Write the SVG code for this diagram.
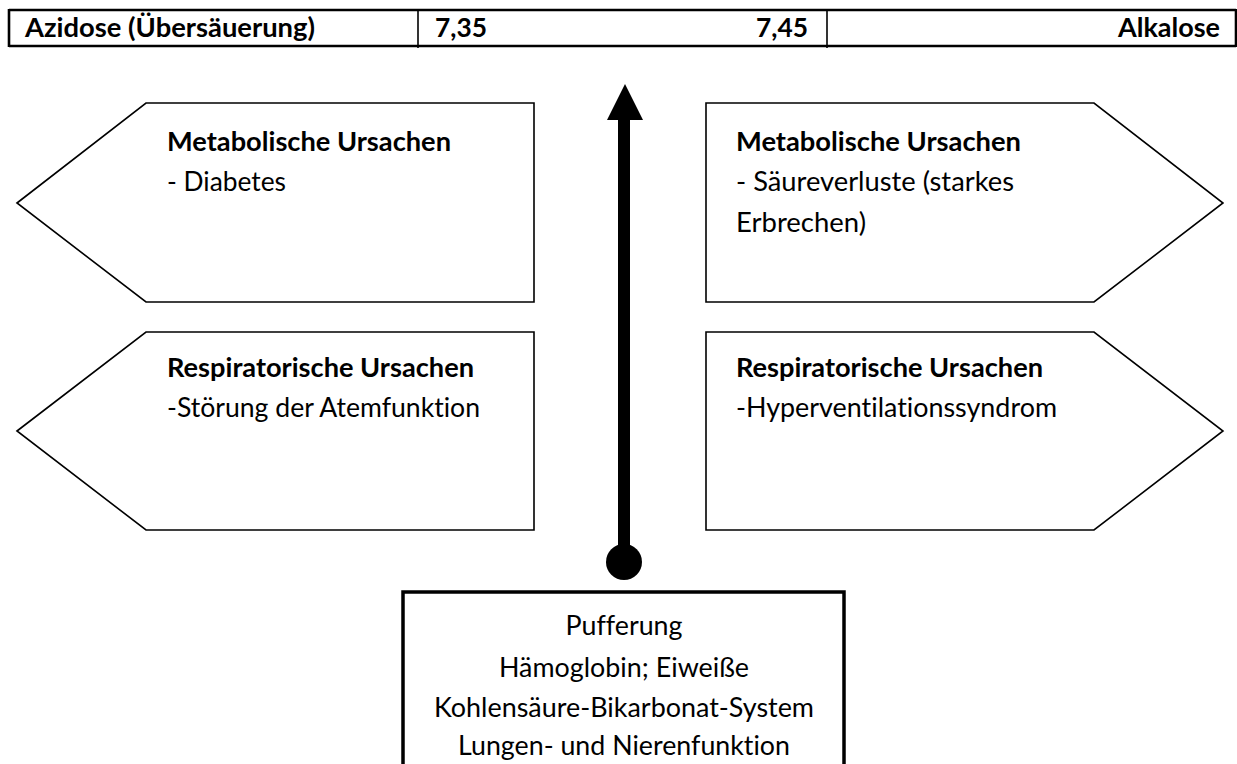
<svg xmlns="http://www.w3.org/2000/svg" width="1237" height="764" viewBox="0 0 1237 764">
<style>
text{font-family:Lato,"Open Sans","Liberation Sans",sans-serif;font-size:27px;fill:#000;font-variant-ligatures:none}
.b{font-weight:bold}
.c{text-anchor:middle}
.shape{fill:#fff;stroke:#000;stroke-width:1.6}
.tbl{fill:none;stroke:#000;stroke-width:2.6}
</style>
<g id="scale-table">
<line class="tbl" x1="9" y1="10" x2="1236" y2="10"/>
<line class="tbl" x1="9" y1="46" x2="1236" y2="46"/>
<line class="tbl" x1="9" y1="9" x2="9" y2="47"/>
<line class="tbl" x1="1236" y1="9" x2="1236" y2="47"/>
<line x1="418" y1="10" x2="418" y2="48" stroke="#000" stroke-width="1.6"/>
<line x1="827" y1="10" x2="827" y2="48" stroke="#000" stroke-width="1.6"/>
<text class="b" x="25" y="37" textLength="290" lengthAdjust="spacingAndGlyphs">Azidose (Übersäuerung)</text>
<text class="b" x="435" y="37" textLength="52" lengthAdjust="spacingAndGlyphs">7,35</text>
<text class="b" x="756" y="37" textLength="52" lengthAdjust="spacingAndGlyphs">7,45</text>
<text class="b" x="1118" y="37" textLength="102" lengthAdjust="spacingAndGlyphs">Alkalose</text>
</g>
<g id="acid-metabolic">
<polygon class="shape" points="17,203 146,103 534,103 534,302 146,302"/>
<text class="b" x="167" y="151" textLength="284" lengthAdjust="spacingAndGlyphs">Metabolische Ursachen</text>
<text x="167" y="191" textLength="119" lengthAdjust="spacingAndGlyphs">- Diabetes</text>
</g>
<g id="acid-respiratory">
<polygon class="shape" points="17,431 146,332 534,332 534,530 146,530"/>
<text class="b" x="167" y="377" textLength="307" lengthAdjust="spacingAndGlyphs">Respiratorische Ursachen</text>
<text x="167" y="417" textLength="313" lengthAdjust="spacingAndGlyphs">-Störung der Atemfunktion</text>
</g>
<g id="alk-metabolic">
<polygon class="shape" points="706,103 1094,103 1223,203 1094,302 706,302"/>
<text class="b" x="736" y="151" textLength="285" lengthAdjust="spacingAndGlyphs">Metabolische Ursachen</text>
<text x="736" y="191" textLength="278" lengthAdjust="spacingAndGlyphs">- Säureverluste (starkes</text>
<text x="736" y="232" textLength="130" lengthAdjust="spacingAndGlyphs">Erbrechen)</text>
</g>
<g id="alk-respiratory">
<polygon class="shape" points="706,332 1094,332 1223,431 1094,530 706,530"/>
<text class="b" x="736" y="377" textLength="307" lengthAdjust="spacingAndGlyphs">Respiratorische Ursachen</text>
<text x="736" y="417" textLength="321" lengthAdjust="spacingAndGlyphs">-Hyperventilationssyndrom</text>
</g>
<g id="buffer">
<rect x="403" y="592" width="441" height="200" fill="#fff" stroke="#000" stroke-width="3.5"/>
<text class="c" x="624" y="635" textLength="117" lengthAdjust="spacingAndGlyphs">Pufferung</text>
<text class="c" x="624" y="677" textLength="250" lengthAdjust="spacingAndGlyphs">Hämoglobin; Eiweiße</text>
<text class="c" x="624" y="717" textLength="380" lengthAdjust="spacingAndGlyphs">Kohlensäure-Bikarbonat-System</text>
<text class="c" x="624" y="755" textLength="332" lengthAdjust="spacingAndGlyphs">Lungen- und Nierenfunktion</text>
</g>
<g id="connectors">
<line x1="624" y1="117" x2="624" y2="560" stroke="#000" stroke-width="12"/>
<polygon points="625,84 607,120 643,120" fill="#000"/>
<circle cx="624" cy="562" r="18" fill="#000"/>
</g>
</svg>
